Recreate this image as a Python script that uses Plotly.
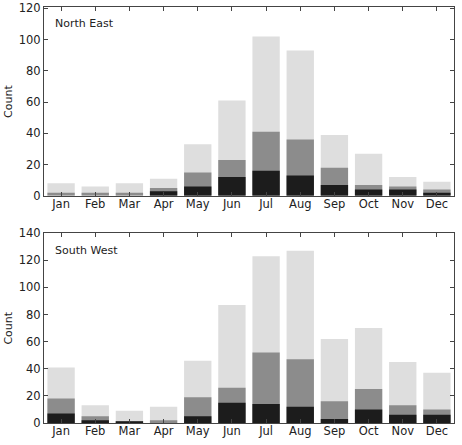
import plotly.graph_objects as go
from plotly.subplots import make_subplots

months = ["Jan", "Feb", "Mar", "Apr", "May", "Jun", "Jul", "Aug", "Sep", "Oct", "Nov", "Dec"]

ne_total = [8, 6, 8, 11, 33, 61, 102, 93, 39, 27, 12, 9]
ne_mid = [2, 2, 2, 5, 15, 23, 41, 36, 18, 7, 6, 4]
ne_low = [0, 0, 0, 3, 6, 12, 16, 13, 7, 4, 4, 2]

sw_total = [41, 13, 9, 12, 46, 87, 123, 127, 62, 70, 45, 37]
sw_mid = [18, 5, 1, 2, 19, 26, 52, 47, 16, 25, 13, 10]
sw_low = [7, 2, 1, 0, 5, 15, 14, 12, 3, 10, 6, 6]

panels = [("North East", ne_total, ne_mid, ne_low, [0, 120.9], 20),
          ("South West", sw_total, sw_mid, sw_low, [0, 140], 20)]

colors = ["#dedede", "#8c8c8c", "#1c1c1c"]

W, H = 462, 445
ml, mr, mt, mb = 44, 8, 0, 22
ph = H - mt - mb
pw = W - ml - mr

fig = make_subplots(rows=2, cols=1, vertical_spacing=0.0)

domains = [[(ph - 192) / ph, 1.0], [0.0, (ph - 230) / ph]]

for i, (name, tot, mid, low, yr, dt) in enumerate(panels):
    r = i + 1
    for vals, c in zip([tot, mid, low], colors):
        fig.add_trace(go.Bar(x=months, y=vals, marker=dict(color=c, line=dict(width=0)),
                             width=0.8, showlegend=False, hoverinfo="skip"), row=r, col=1)
    xa = "xaxis" if r == 1 else "xaxis2"
    ya = "yaxis" if r == 1 else "yaxis2"
    fig.layout[xa].update(range=[-0.5, 11.5], showline=True, mirror="ticks", linecolor="#444",
                          linewidth=1, ticks="inside", ticklen=4, tickcolor="#444",
                          ticklabelstandoff=-3,
                          tickfont=dict(family="DejaVu Sans", size=11.5, color="#222"),
                          showgrid=False, zeroline=False, fixedrange=True)
    fig.layout[ya].update(range=yr, dtick=dt, domain=domains[i], showline=True, mirror="ticks",
                          linecolor="#444", linewidth=1, ticks="inside", ticklen=4,
                          tickcolor="#444", showgrid=False, zeroline=False,
                          tickfont=dict(family="DejaVu Sans", size=11.5, color="#222"))
    ycen_px = 17 if i == 0 else 248
    fig.add_annotation(text=name, xref="paper", yref="paper", x=(53 - ml) / pw,
                       y=(ph - ycen_px) / ph, xanchor="left", yanchor="middle", showarrow=False,
                       font=dict(family="DejaVu Sans", size=11, color="#222"))
    mid_px = (0 + 192) / 2 if i == 0 else (230 + 423) / 2
    fig.add_annotation(text="Count", xref="paper", yref="paper", x=(8.5 - ml) / pw,
                       y=(ph - mid_px) / ph, xanchor="center", yanchor="middle", textangle=-90,
                       showarrow=False, font=dict(family="DejaVu Sans", size=11, color="#222"))

fig.update_layout(width=W, height=H, margin=dict(l=ml, r=mr, t=mt, b=mb),
                  barmode="overlay", bargap=0.2, plot_bgcolor="white", paper_bgcolor="white")

fig.write_html("out.html")
